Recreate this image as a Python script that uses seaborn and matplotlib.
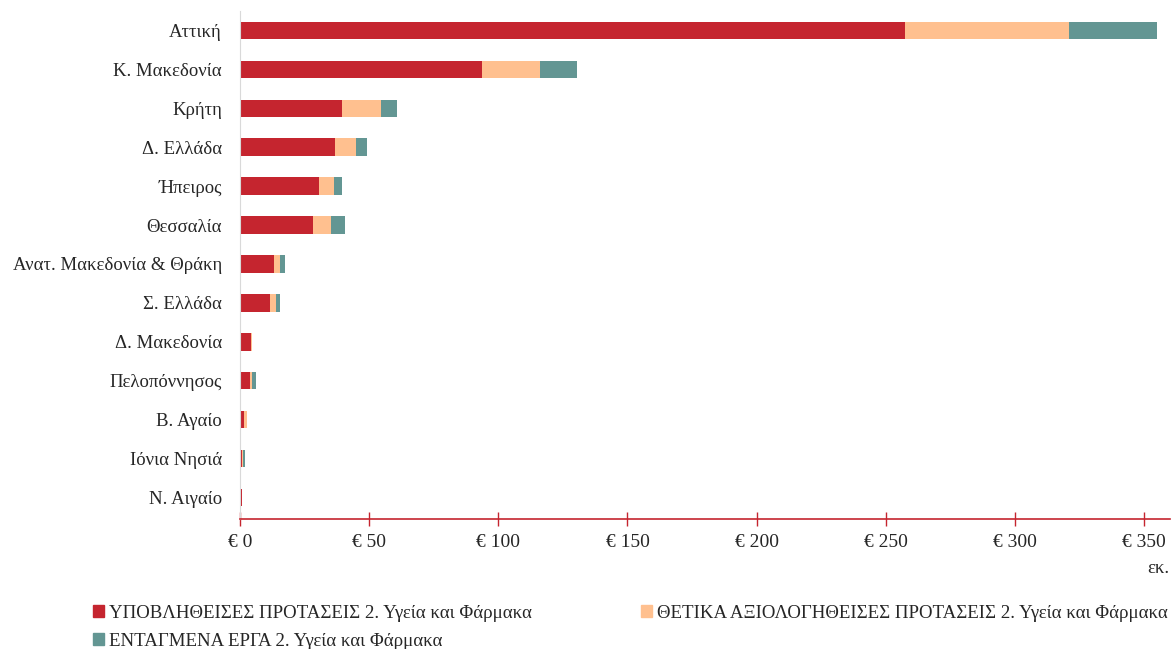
import matplotlib.pyplot as plt
import numpy as np
import pandas as pd
import seaborn as sns
from matplotlib.patches import Patch
from matplotlib.ticker import FuncFormatter

regions = [
    "Αττική", "Κ. Μακεδονία", "Κρήτη", "Δ. Ελλάδα", "Ήπειρος", "Θεσσαλία",
    "Ανατ. Μακεδονία & Θράκη", "Σ. Ελλάδα", "Δ. Μακεδονία", "Πελοπόννησος",
    "Β. Αγαίο", "Ιόνια Νησιά", "Ν. Αιγαίο",
]
submitted = [257.6, 93.5, 39.3, 36.8, 30.4, 28.2, 13.2, 11.7, 4.2, 3.7, 1.7, 0.8, 0.8]
approved = [63.3, 22.6, 15.3, 8.2, 6.0, 7.0, 2.2, 2.2, 0.6, 0.9, 0.8, 0.3, 0.0]
integrated = [34.2, 14.4, 6.1, 4.1, 3.1, 5.6, 2.1, 1.6, 0.0, 1.4, 0.0, 0.8, 0.0]

series_names = [
    "ΥΠΟΒΛΗΘΕΙΣΕΣ ΠΡΟΤΑΣΕΙΣ 2. Υγεία και Φάρμακα",
    "ΘΕΤΙΚΑ ΑΞΙΟΛΟΓΗΘΕΙΣΕΣ ΠΡΟΤΑΣΕΙΣ 2. Υγεία και Φάρμακα",
    "ΕΝΤΑΓΜΕΝΑ ΕΡΓΑ 2. Υγεία και Φάρμακα",
]
colors = ["#C5252F", "#FFC08F", "#639693"]

df = pd.DataFrame({
    "region": regions,
    "s1": submitted,
    "s2": np.array(submitted) + np.array(approved),
    "s3": np.array(submitted) + np.array(approved) + np.array(integrated),
})

sns.set_style("white")
plt.rcParams["font.family"] = ["Liberation Serif", "DejaVu Serif"]

fig, ax = plt.subplots(figsize=(11.71, 6.49), dpi=100)
fig.subplots_adjust(left=0.205, right=0.999, top=0.983, bottom=0.2)

# draw cumulative totals back to front
for col, color in zip(["s3", "s2", "s1"], colors[::-1]):
    sns.barplot(data=df, y="region", x=col, orient="h", color=color,
                width=0.45, saturation=1, linewidth=0, ax=ax)

ax.set_xlim(0, 360)
ax.set_ylim(12.56, -0.5)
ax.set_xticks(np.arange(0, 351, 50))
ax.xaxis.set_major_formatter(FuncFormatter(lambda v, p: f"€ {v:.0f}"))
ax.set_ylabel("")
ax.set_xlabel("εκ.", fontsize=13.5, loc="right", labelpad=6)

for s in ["top", "right"]:
    ax.spines[s].set_visible(False)
ax.spines["left"].set_color("#d9d9d9")
ax.spines["bottom"].set_color("#C5252F")
ax.spines["bottom"].set_linewidth(1.2)
ax.tick_params(axis="x", bottom=True, direction="inout", length=10, width=1,
               color="#C5252F", labelsize=14, pad=6)
ax.tick_params(axis="y", length=0, labelsize=13.5, pad=13)

handles = [Patch(color=c) for c in colors]
order = [0, 2, 1]
fig.legend([handles[i] for i in order], [series_names[i] for i in order],
           loc="lower left", bbox_to_anchor=(0.065, -0.027), ncol=2,
           frameon=False, fontsize=13.6, handlelength=0.6, handleheight=0.6,
           handletextpad=0.22, columnspacing=5.8, labelspacing=0.55)

fig.savefig("out.png", dpi=100)
